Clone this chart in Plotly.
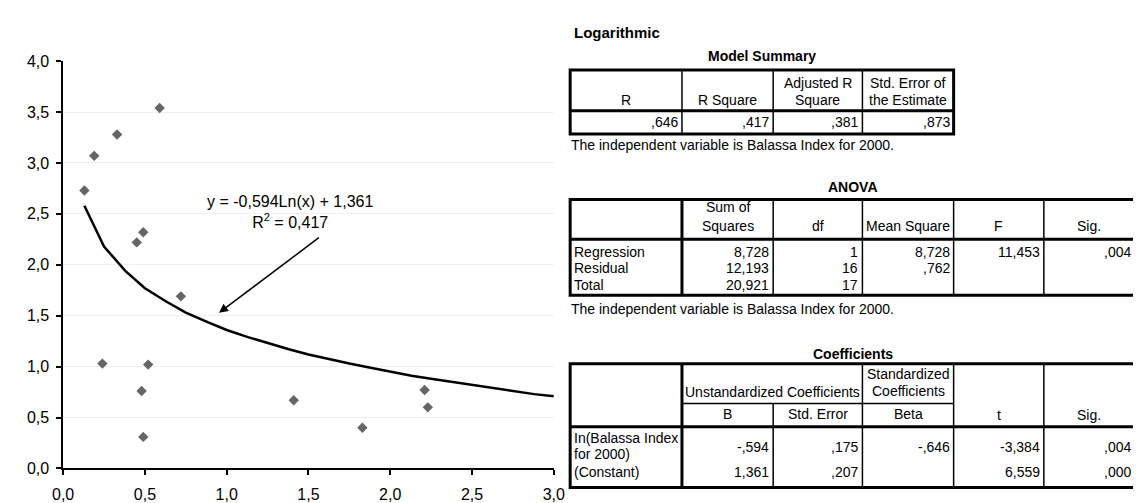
import plotly.graph_objects as go

W, H = 1141, 503
FONT = "Liberation Sans, Arial, sans-serif"

# ---------------- chart data ----------------
balassa_x = [0.13, 0.19, 0.33, 0.59, 0.45, 0.49, 0.72, 0.24, 0.52, 0.48, 0.49, 1.41, 1.83, 2.21, 2.23]
value_y = [2.73, 3.07, 3.28, 3.54, 2.22, 2.32, 1.69, 1.03, 1.02, 0.76, 0.31, 0.67, 0.40, 0.77, 0.60]

trend_x = [0.13, 0.25, 0.38, 0.50, 0.63, 0.75, 0.88, 1.00, 1.13, 1.25, 1.38, 1.50,
           1.63, 1.75, 1.88, 2.00, 2.13, 2.25, 2.38, 2.50, 2.63, 2.75, 2.88, 3.00]
trend_y = [2.58, 2.18, 1.94, 1.77, 1.64, 1.53, 1.44, 1.36, 1.29, 1.23, 1.17, 1.12,
           1.07, 1.03, 0.99, 0.95, 0.91, 0.88, 0.85, 0.82, 0.79, 0.76, 0.73, 0.71]

equation_text = "y = -0,594Ln(x) + 1,361"
r2_text = "R<sup>2</sup> = 0,417"

# ---------------- table contents ----------------
section_title = "Logarithmic"
footnote = "The independent variable is Balassa Index for 2000."

ms_title = "Model Summary"
ms_headers = [["R"], ["R Square"], ["Adjusted R", "Square"], ["Std. Error of", "the Estimate"]]
ms_values = [",646", ",417", ",381", ",873"]

anova_title = "ANOVA"
anova_headers = [["Sum of", "Squares"], ["df"], ["Mean Square"], ["F"], ["Sig."]]
anova_rows = ["Regression", "Residual", "Total"]
anova_values = [["8,728", "1", "8,728", "11,453", ",004"],
                ["12,193", "16", ",762", "", ""],
                ["20,921", "17", "", "", ""]]

coef_title = "Coefficients"
coef_group1 = "Unstandardized Coefficients"
coef_group2 = ["Standardized", "Coefficients"]
coef_sub = ["B", "Std. Error", "Beta"]
coef_tail = ["t", "Sig."]
coef_rows = [["In(Balassa Index", "for 2000)"], ["(Constant)"]]
coef_values = [["-,594", ",175", "-,646", "-3,384", ",004"],
               ["1,361", ",207", "", "6,559", ",000"]]

# ---------------- figure ----------------
fig = go.Figure()
fig.add_trace(go.Scatter(x=balassa_x, y=value_y, mode="markers",
                         marker=dict(symbol="diamond", size=8, color="#666666"),
                         showlegend=False, hoverinfo="skip"))
fig.add_trace(go.Scatter(x=trend_x, y=trend_y, mode="lines",
                         line=dict(color="black", width=2.5),
                         showlegend=False, hoverinfo="skip"))

shapes = []
annots = []


def px(x):
    return x / W


def py(y):
    return 1 - y / H


def hline(x0, x1, y, w=1.5):
    shapes.append(dict(type="line", xref="paper", yref="paper",
                       x0=px(x0), x1=px(x1), y0=py(y), y1=py(y),
                       line=dict(color="black", width=w)))


def vline(x, y0, y1, w=1.5):
    shapes.append(dict(type="line", xref="paper", yref="paper",
                       x0=px(x), x1=px(x), y0=py(y0), y1=py(y1),
                       line=dict(color="black", width=w)))


def box(x0, y0, x1, y1, w=3):
    shapes.append(dict(type="rect", xref="paper", yref="paper",
                       x0=px(x0), x1=px(x1), y0=py(y1), y1=py(y0),
                       line=dict(color="black", width=w)))


def txt(x, y, s, anchor="center", size=14, bold=False):
    if bold:
        s = "<b>" + s + "</b>"
    annots.append(dict(xref="paper", yref="paper", x=px(x), y=py(y), text=s,
                       showarrow=False, xanchor=anchor, yanchor="middle",
                       borderpad=0,
                       font=dict(size=size, color="black", family=FONT)))


COLS = [562, 676, 769, 860, 953, 1045, 1138]
PAD = 3

# ---- Model Summary ----
txt(565, 17, section_title, "left", 15, True)
txt((COLS[0] + COLS[4]) / 2, 41, ms_title, "center", 14, True)
ms_top, ms_hb, ms_bot = 56, 98, 122
for i, lines in enumerate(ms_headers):
    cx = (COLS[i] + COLS[i + 1]) / 2
    ys = [87] if len(lines) == 1 else [69, 87]
    for yy, s in zip(ys, lines):
        txt(cx, yy, s)
    txt(COLS[i + 1] - PAD, 110, ms_values[i], "right")
for i in range(1, 4):
    vline(COLS[i], ms_top, ms_bot)
hline(COLS[0], COLS[4], ms_hb, 3)
box(COLS[0], ms_top, COLS[4], ms_bot)
txt(COLS[0], 133, footnote, "left")

# ---- ANOVA ----
an_top, an_hb, an_bot = 190, 231, 289
row_y = [244, 261, 278]
txt((COLS[0] + COLS[6]) / 2, 177, anova_title, "center", 14, True)
for i, lines in enumerate(anova_headers):
    cx = (COLS[i + 1] + COLS[i + 2]) / 2
    ys = [217] if len(lines) == 1 else [198, 217]
    for yy, s in zip(ys, lines):
        txt(cx, yy, s)
for r, lab in enumerate(anova_rows):
    txt(COLS[0] + PAD, row_y[r], lab, "left")
    for c, v in enumerate(anova_values[r]):
        if v:
            txt(COLS[c + 2] - PAD, row_y[r], v, "right")
vline(COLS[1], an_top, an_bot, 3)
for i in range(2, 6):
    vline(COLS[i], an_top, an_bot)
hline(COLS[0], COLS[6], an_hb, 3)
box(COLS[0], an_top, COLS[6], an_bot)
txt(COLS[0], 303, footnote, "left")

# ---- Coefficients ----
co_top, co_sub, co_hb, co_bot = 360, 401, 425, 488
txt((COLS[0] + COLS[6]) / 2, 350, coef_title, "center", 14, True)
txt((COLS[1] + COLS[3]) / 2, 389, coef_group1)
txt((COLS[3] + COLS[4]) / 2, 371, coef_group2[0])
txt((COLS[3] + COLS[4]) / 2, 388, coef_group2[1])
for i, s in enumerate(coef_sub):
    txt((COLS[i + 1] + COLS[i + 2]) / 2, 412, s)
for i, s in enumerate(coef_tail):
    txt((COLS[i + 4] + COLS[i + 5]) / 2, 413, s)
coef_label_y = [[437, 453], [472]]
coef_value_y = [446, 472]
for r, lines in enumerate(coef_rows):
    for yy, s in zip(coef_label_y[r], lines):
        txt(COLS[0] + PAD, yy, s, "left")
    for c, v in enumerate(coef_values[r]):
        if v:
            txt(COLS[c + 2] - PAD, coef_value_y[r], v, "right")
vline(COLS[1], co_top, co_bot, 3)
vline(COLS[2], co_sub, co_bot)
vline(COLS[3], co_top, co_bot)
vline(COLS[4], co_top, co_bot)
vline(COLS[5], co_top, co_bot)
hline(COLS[1], COLS[4], co_sub)
hline(COLS[0], COLS[6], co_hb, 3)
box(COLS[0], co_top, COLS[6], co_bot)

# ---- chart annotations ----
annots.append(dict(xref="x", yref="y", x=1.39, y=2.52, text=equation_text + "<br>" + r2_text,
                   showarrow=False, xanchor="center", yanchor="middle",
                   font=dict(size=16, color="black", family=FONT)))
annots.append(dict(xref="x", yref="y", x=0.953, y=1.528, axref="x", ayref="y",
                   ax=1.585, ay=2.292, text=" ", showarrow=True,
                   arrowhead=2, arrowsize=1.2, arrowwidth=1.5, arrowcolor="black"))

fig.update_layout(
    width=W, height=H,
    margin=dict(l=0, r=0, t=0, b=0),
    paper_bgcolor="white", plot_bgcolor="white",
    separators=", ",
    font=dict(family=FONT, size=16, color="black"),
    shapes=shapes, annotations=annots,
    xaxis=dict(domain=[45 / W, 545.3 / W], range=[0, 3], dtick=0.5, tick0=0,
               tickformat=".1f", showgrid=False, zeroline=False,
               showline=True, linecolor="black", linewidth=1.5,
               ticks="outside", ticklen=5, tickwidth=1.5, tickcolor="black",
               ticklabelstandoff=6,
               tickfont=dict(size=16, family=FONT, color="black"), fixedrange=True),
    yaxis=dict(domain=[1 - 468.3 / H, 1 - 46.7 / H], range=[0, 4], dtick=0.5, tick0=0,
               tickformat=".1f", showgrid=True, gridcolor="#f0f0f0", gridwidth=1,
               zeroline=False,
               showline=True, linecolor="black", linewidth=1.5,
               ticks="outside", ticklen=5, tickwidth=1.5, tickcolor="black",
               ticklabelstandoff=4,
               tickfont=dict(size=16, family=FONT, color="black"), fixedrange=True),
)

fig.write_html("out.html")
